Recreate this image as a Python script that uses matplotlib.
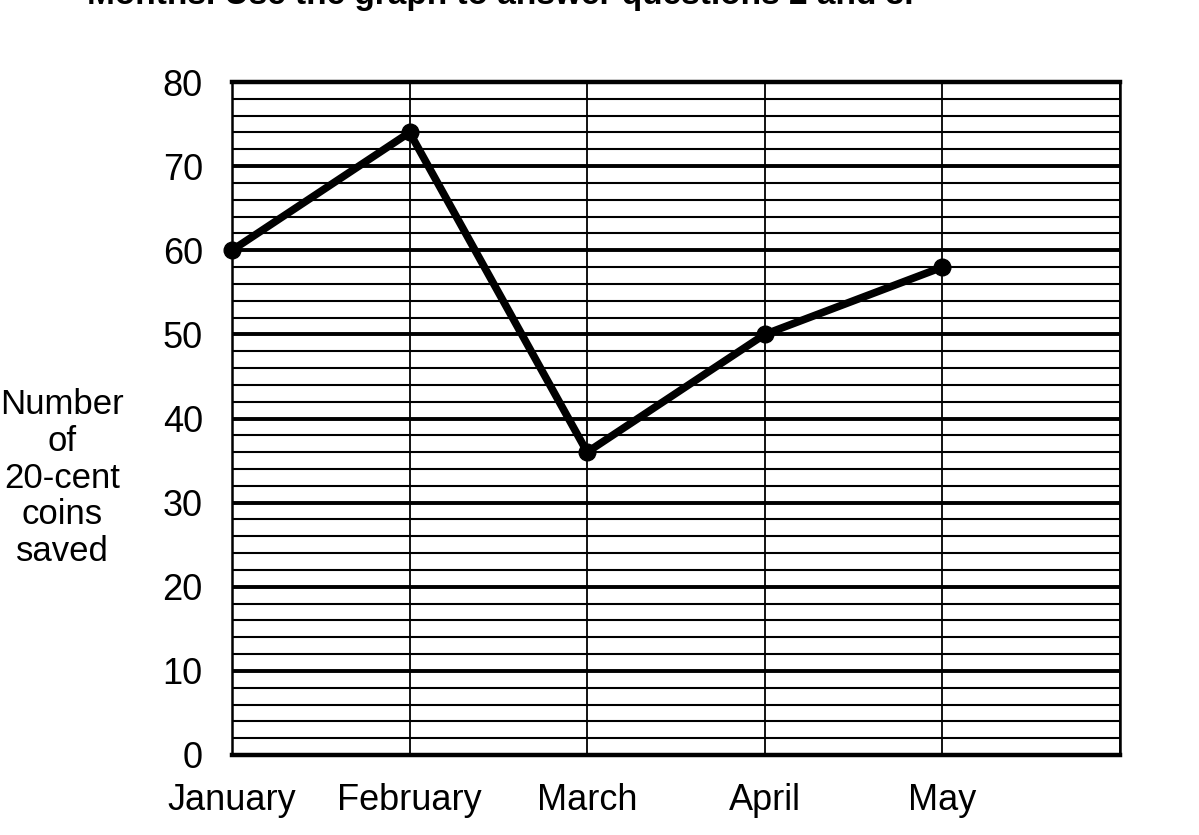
import matplotlib
matplotlib.use("Agg")
import matplotlib.pyplot as plt
from matplotlib.ticker import MultipleLocator

plt.rcParams['font.family'] = ['Liberation Sans', 'DejaVu Sans']

months = ["January", "February", "March", "April", "May"]
coins = [60, 74, 36, 50, 58]
y_ticks = [0, 10, 20, 30, 40, 50, 60, 70, 80]
header = "Months. Use the graph to answer questions 2 and 3."
y_label = "Number\nof\n20-cent\ncoins\nsaved"

fig = plt.figure(figsize=(11.99, 8.35), dpi=100)
ax = fig.add_axes([232 / 1199, 1 - 755 / 835, 888 / 1199, 673 / 835])

x = list(range(len(months)))

# grid: thin every 2, heavier every 10, verticals at each month
ax.set_xlim(0, 5)
ax.set_ylim(0, 80)
ax.yaxis.set_minor_locator(MultipleLocator(2))
ax.set_yticks(y_ticks)
ax.set_xticks(x)
ax.set_xticklabels(months)
ax.xaxis.set_minor_locator(MultipleLocator(1))
ax.grid(axis='y', which='minor', color='black', linewidth=1.5)
ax.grid(axis='y', which='major', color='black', linewidth=2.8)
ax.grid(axis='x', which='both', color='black', linewidth=1.3)
ax.set_axisbelow(True)

for side in ax.spines.values():
    side.set_linewidth(1.8)
ax.spines['top'].set_linewidth(3.2)
ax.spines['bottom'].set_linewidth(3.2)

ax.tick_params(axis='both', which='both', length=0)
ax.tick_params(axis='y', labelsize=26, pad=21)
ax.tick_params(axis='x', labelsize=26, pad=20)

ax.plot(x, coins, color='black', linewidth=5.5, marker='o', markersize=12,
        clip_on=False, zorder=5)

fig.text(62 / 1199, 1 - 478 / 835, y_label, ha='center', va='center',
         multialignment='center', fontsize=25, linespacing=1.15)
fig.text(87 / 1199, 1 - 4 / 835, header, ha='left', va='baseline',
         fontsize=24, fontweight='bold')

fig.savefig("out.png", dpi=100, facecolor='white')
